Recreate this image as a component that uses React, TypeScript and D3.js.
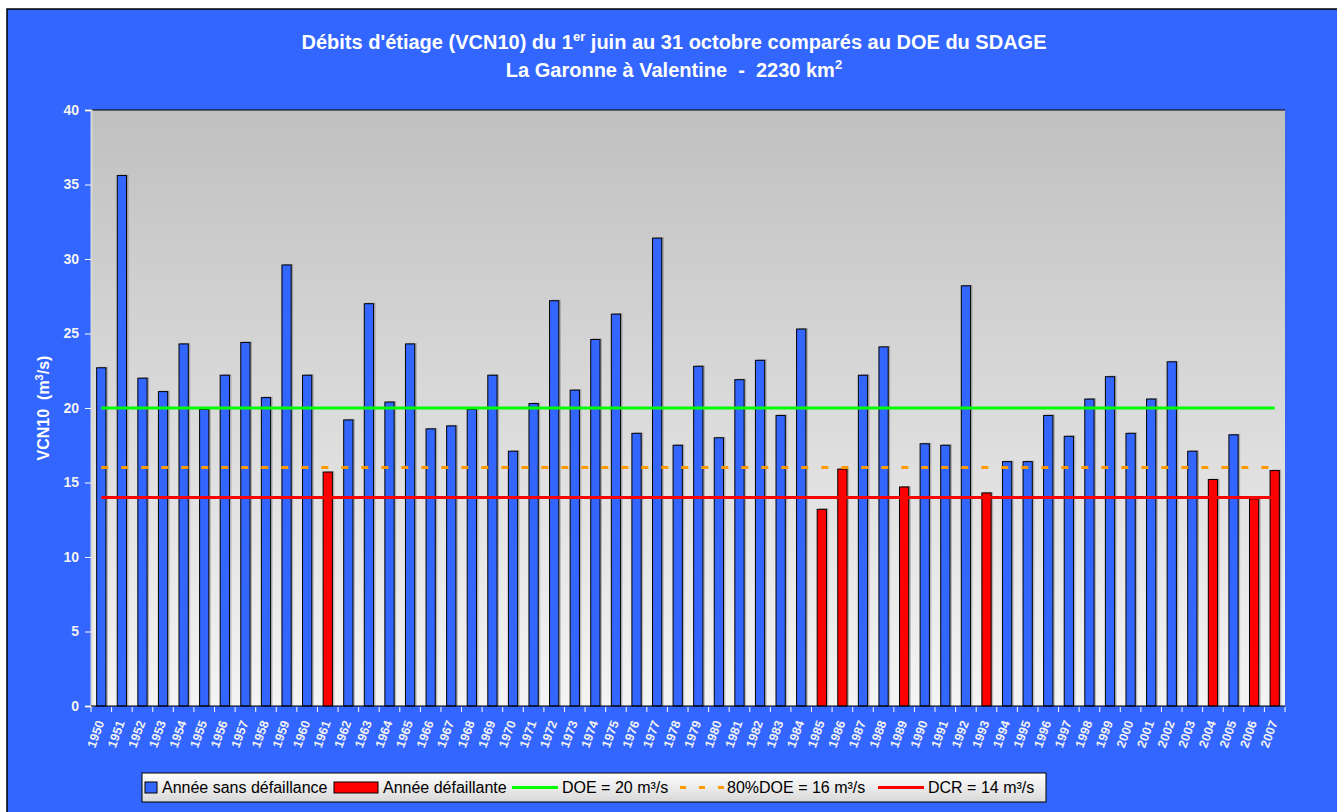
import { useRef, useEffect } from "react";
import * as d3 from "d3";

// categories (years)
const years = [
  "1950", "1951", "1952", "1953", "1954", "1955", "1956", "1957", "1958", "1959",
  "1960", "1961", "1962", "1963", "1964", "1965", "1966", "1967", "1968", "1969",
  "1970", "1971", "1972", "1973", "1974", "1975", "1976", "1977", "1978", "1979",
  "1980", "1981", "1982", "1983", "1984", "1985", "1986", "1987", "1988", "1989",
  "1990", "1991", "1992", "1993", "1994", "1995", "1996", "1997", "1998", "1999",
  "2000", "2001", "2002", "2003", "2004", "2005", "2006", "2007",
];

// VCN10 in m3/s
const vcn10 = [
  22.7, 35.6, 22.0, 21.1, 24.3, 19.9, 22.2, 24.4, 20.7, 29.6,
  22.2, 15.7, 19.2, 27.0, 20.4, 24.3, 18.6, 18.8, 19.9, 22.2,
  17.1, 20.3, 27.2, 21.2, 24.6, 26.3, 18.3, 31.4, 17.5, 22.8,
  18.0, 21.9, 23.2, 19.5, 25.3, 13.2, 15.9, 22.2, 24.1, 14.7,
  17.6, 17.5, 28.2, 14.3, 16.4, 16.4, 19.5, 18.1, 20.6, 22.1,
  18.3, 20.6, 23.1, 17.1, 15.2, 18.2, 13.9, 15.8,
];

// years that failed
const failingYears = ["1961", "1985", "1986", "1989", "1993", "2004", "2006", "2007"];

// thresholds
const doe = 20;
const doe80 = 16;
const dcr = 14;

const yTicks = [0, 5, 10, 15, 20, 25, 30, 35, 40];

const BG = "#3366FF";
const RED = "#FF0000";
const GREEN = "#00FF00";
const ORANGE = "#FF9900";
const FONT = "'Liberation Sans', Arial, sans-serif";

export default function App() {
  const svgRef = useRef<SVGSVGElement>(null);

  useEffect(() => {
    const svg = d3.select(svgRef.current);
    svg.selectAll("*").remove();

    const left = 91, right = 1285, top = 110, bottom = 706;

    const xScale = d3.scaleBand<string>()
      .domain(years)
      .range([left, right])
      .paddingInner(0.55)
      .paddingOuter(0.275);
    const yScale = d3.scaleLinear().domain([0, 40]).range([bottom, top]);

    // background + frame
    svg.append("rect").attr("width", 1337).attr("height", 812).attr("fill", "#ffffff");
    svg.append("rect")
      .attr("x", 7).attr("y", 9).attr("width", 1340).attr("height", 820)
      .attr("fill", BG).attr("stroke", "#000").attr("stroke-width", 1.5);

    // gradients
    const defs = svg.append("defs");
    const grad = defs.append("linearGradient")
      .attr("id", "plotGrad").attr("x1", 0).attr("y1", 0).attr("x2", 0).attr("y2", 1);
    grad.append("stop").attr("offset", "0%").attr("stop-color", "#c0c0c0");
    grad.append("stop").attr("offset", "100%").attr("stop-color", "#f4f4f4");
    const lgrad = defs.append("linearGradient")
      .attr("id", "legGrad").attr("x1", 0).attr("y1", 0).attr("x2", 0).attr("y2", 1);
    lgrad.append("stop").attr("offset", "0%").attr("stop-color", "#ffffff");
    lgrad.append("stop").attr("offset", "100%").attr("stop-color", "#d8d8d8");

    svg.append("rect")
      .attr("x", left).attr("y", top)
      .attr("width", right - left).attr("height", bottom - top)
      .attr("fill", "url(#plotGrad)");
    svg.append("line")
      .attr("x1", left).attr("x2", right).attr("y1", top).attr("y2", top)
      .attr("stroke", "#000").attr("stroke-width", 1);

    // title
    const title = svg.append("text")
      .attr("x", 674).attr("y", 49)
      .attr("text-anchor", "middle")
      .attr("font-family", FONT).attr("font-weight", "bold").attr("font-size", 20)
      .attr("fill", "#fff");
    title.append("tspan").text("Débits d'étiage (VCN10) du 1");
    title.append("tspan").attr("font-size", 13).attr("dy", -8).text("er");
    title.append("tspan").attr("dy", 8).text(" juin au 31 octobre comparés au DOE du SDAGE");

    const title2 = svg.append("text")
      .attr("x", 674).attr("y", 77)
      .attr("text-anchor", "middle")
      .attr("font-family", FONT).attr("font-weight", "bold").attr("font-size", 20)
      .attr("fill", "#fff")
      .attr("xml:space", "preserve");
    title2.append("tspan").text("La Garonne à Valentine  -  2230 km");
    title2.append("tspan").attr("font-size", 13).attr("dy", -8).text("2");

    // y axis
    const yAxis = svg.append("g").attr("transform", `translate(${left},0)`)
      .call(d3.axisLeft(yScale).tickValues(yTicks).tickSize(6).tickPadding(6));
    yAxis.select(".domain").attr("stroke", "#d8d8d8").attr("stroke-width", 2);
    yAxis.selectAll(".tick line").attr("stroke", "#ffffff");
    yAxis.selectAll(".tick text")
      .attr("fill", "#f2f2f2")
      .attr("font-family", FONT).attr("font-weight", "bold").attr("font-size", 14);

    const yTitle = svg.append("text")
      .attr("transform", `translate(49,${(top + bottom) / 2}) rotate(-90)`)
      .attr("text-anchor", "middle")
      .attr("font-family", FONT).attr("font-weight", "bold").attr("font-size", 16)
      .attr("fill", "#fff")
      .attr("xml:space", "preserve");
    yTitle.append("tspan").text("VCN10  (m");
    yTitle.append("tspan").attr("font-size", 11).attr("dy", -6).text("3");
    yTitle.append("tspan").attr("dy", 6).text("/s)");

    // bars
    const rows = years.map((y, i) => ({ year: y, value: vcn10[i], fail: failingYears.includes(y) }));
    const bw = xScale.bandwidth();

    svg.append("g").selectAll("rect")
      .data(rows)
      .join("rect")
      .attr("x", (d) => (xScale(d.year) as number) + 2)
      .attr("y", (d) => yScale(d.value) - 1)
      .attr("width", bw)
      .attr("height", (d) => bottom - yScale(d.value) + 1)
      .attr("fill", "rgba(0,0,0,0.22)");

    svg.append("g").selectAll("rect")
      .data(rows)
      .join("rect")
      .attr("x", (d) => xScale(d.year) as number)
      .attr("y", (d) => yScale(d.value))
      .attr("width", bw)
      .attr("height", (d) => bottom - yScale(d.value))
      .attr("fill", (d) => (d.fail ? RED : BG))
      .attr("stroke", "#000")
      .attr("stroke-width", 1);

    // threshold lines
    const cx = (y: string) => (xScale(y) as number) + bw / 2;
    const x0 = cx(years[0]);
    const x1 = cx(years[years.length - 1]);
    const thr = [
      { v: doe, color: GREEN, dash: null },
      { v: doe80, color: ORANGE, dash: "7,13" },
      { v: dcr, color: RED, dash: null },
    ];
    svg.append("g").selectAll("line")
      .data(thr)
      .join("line")
      .attr("x1", x0).attr("x2", x1)
      .attr("y1", (d) => yScale(d.v)).attr("y2", (d) => yScale(d.v))
      .attr("stroke", (d) => d.color)
      .attr("stroke-width", 3)
      .attr("stroke-dasharray", (d) => d.dash);

    // x axis
    svg.append("line")
      .attr("x1", left).attr("x2", right).attr("y1", bottom).attr("y2", bottom)
      .attr("stroke", "#000").attr("stroke-width", 1);
    const step = xScale.step();
    const boundaries = years.map((y) => (xScale(y) as number) - step * 0.275).concat([right]);
    svg.append("g").selectAll("line")
      .data(boundaries)
      .join("line")
      .attr("x1", (d) => d).attr("x2", (d) => d)
      .attr("y1", bottom + 1).attr("y2", bottom + 6)
      .attr("stroke", "#ffffff");

    svg.append("g").selectAll("text")
      .data(years)
      .join("text")
      .attr("transform", (d) => `translate(${cx(d) - 1},${bottom + 15}) rotate(-70)`)
      .attr("text-anchor", "end")
      .attr("dy", "0.35em")
      .attr("font-family", FONT).attr("font-weight", "bold").attr("font-size", 12.5)
      .attr("fill", "#f2f2f2")
      .text((d) => d);

    // legend
    const lg = svg.append("g");
    const ly = 787.5;
    lg.append("rect")
      .attr("x", 142).attr("y", 773).attr("width", 904).attr("height", 29)
      .attr("fill", "url(#legGrad)").attr("stroke", "#000").attr("stroke-width", 1);
    const lt = (x: number, t: string) =>
      lg.append("text")
        .attr("x", x).attr("y", ly + 5.5)
        .attr("font-family", FONT).attr("font-size", 16).attr("fill", "#000")
        .text(t);
    lg.append("rect").attr("x", 145).attr("y", 782).attr("width", 12).attr("height", 11)
      .attr("fill", BG).attr("stroke", "#000");
    lt(162, "Année sans défaillance");
    lg.append("rect").attr("x", 334).attr("y", 782).attr("width", 44).attr("height", 11)
      .attr("fill", RED).attr("stroke", "#000");
    lt(383, "Année défaillante");
    lg.append("line").attr("x1", 512).attr("x2", 558).attr("y1", ly).attr("y2", ly)
      .attr("stroke", GREEN).attr("stroke-width", 3);
    lt(562, "DOE = 20 m³/s");
    lg.append("line").attr("x1", 680).attr("x2", 724).attr("y1", ly).attr("y2", ly)
      .attr("stroke", ORANGE).attr("stroke-width", 3).attr("stroke-dasharray", "6,13");
    lt(727, "80%DOE = 16 m³/s");
    lg.append("line").attr("x1", 878).attr("x2", 924).attr("y1", ly).attr("y2", ly)
      .attr("stroke", RED).attr("stroke-width", 3);
    lt(928, "DCR = 14 m³/s");
  }, []);

  return (
    <div style={{ position: "absolute", left: 0, top: 0 }}>
      <svg ref={svgRef} width={1337} height={812} style={{ display: "block" }} />
    </div>
  );
}
